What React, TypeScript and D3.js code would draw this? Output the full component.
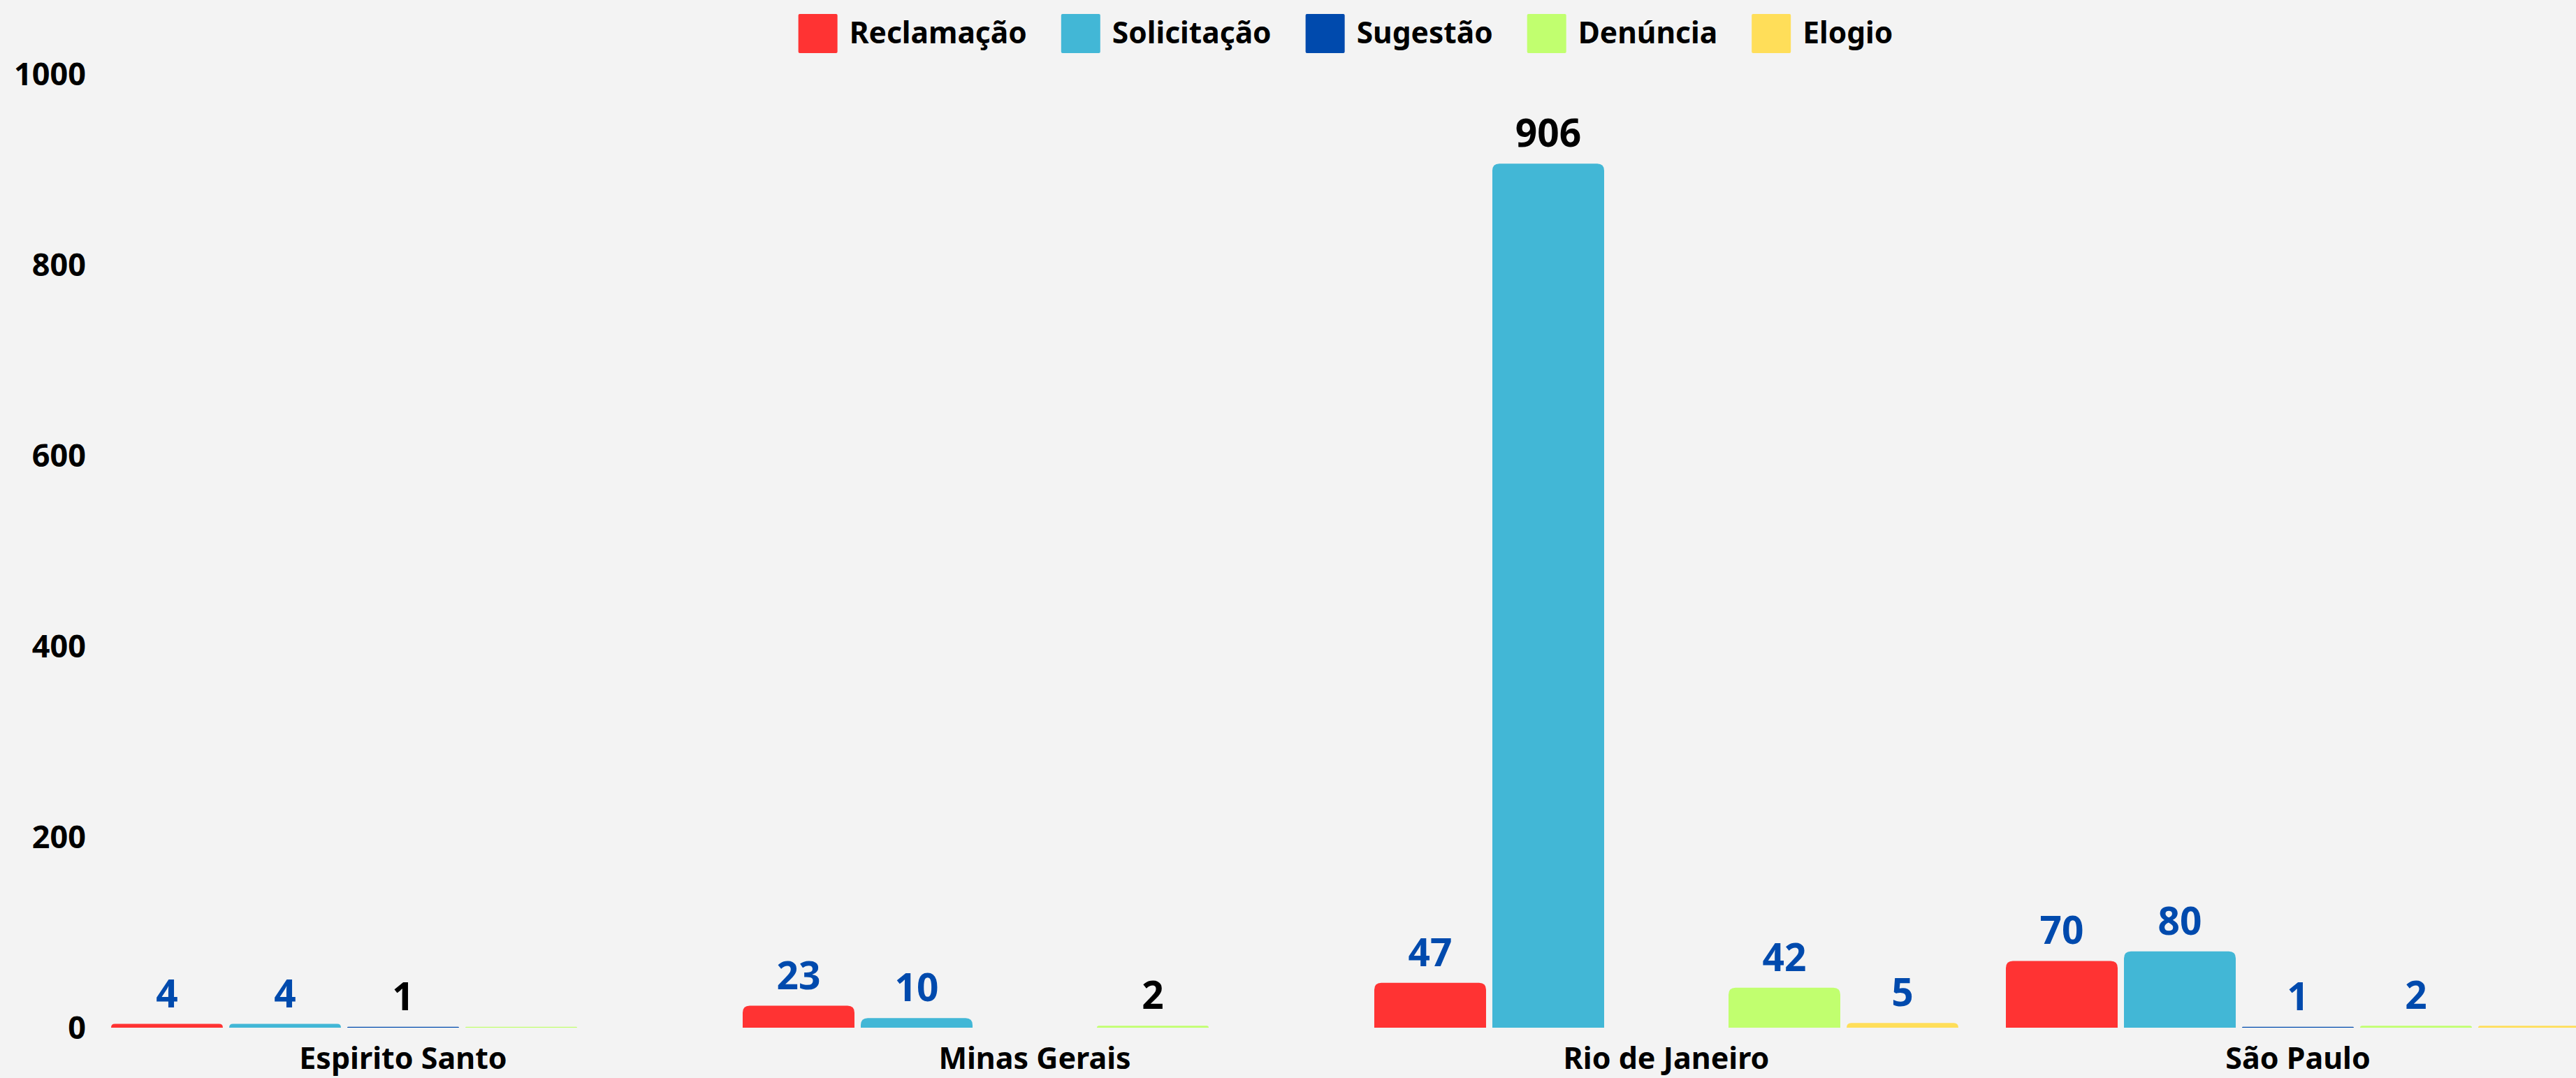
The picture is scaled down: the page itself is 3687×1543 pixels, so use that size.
import React, { useEffect, useRef } from "react";
import * as d3 from "d3";

const categories = ["Espirito Santo", "Minas Gerais", "Rio de Janeiro", "São Paulo"];
const seriesNames = ["Reclamação", "Solicitação", "Sugestão", "Denúncia", "Elogio"];
const seriesColors = ["#FF3333", "#42B7D6", "#004AAD", "#C1FF6F", "#FFDE59"];
const reclamacao = [4, 23, 47, 70];
const solicitacao = [4, 10, 906, 80];
const sugestao = [1, 0, 0, 1];
const denuncia = [1, 2, 42, 2];
const elogio = [0, 0, 5, 2];
const yTicks = [0, 200, 400, 600, 800, 1000];
const hiddenLabels = ["Espirito Santo|Denúncia", "São Paulo|Elogio"];
const blackLabels = ["Espirito Santo|Sugestão", "Minas Gerais|Denúncia", "Rio de Janeiro|Solicitação"];

const W = 3687;
const H = 1543;
const FONT = "'Noto Sans', 'Open Sans', sans-serif";

function topRoundedRect(x: number, y: number, w: number, h: number, r: number) {
  const rr = Math.max(0, Math.min(r, h, w / 2));
  const p = d3.path();
  p.moveTo(x, y + h);
  p.lineTo(x, y + rr);
  p.quadraticCurveTo(x, y, x + rr, y);
  p.lineTo(x + w - rr, y);
  p.quadraticCurveTo(x + w, y, x + w, y + rr);
  p.lineTo(x + w, y + h);
  p.closePath();
  return p.toString();
}

export default function App() {
  const ref = useRef<SVGSVGElement | null>(null);

  useEffect(() => {
    document.body.style.margin = "0";
    document.body.style.overflow = "hidden";
    const svg = d3.select(ref.current);
    svg.selectAll("*").remove();

    const seriesValues = [reclamacao, solicitacao, sugestao, denuncia, elogio];
    const rows = categories.map((c, i) => ({
      cat: c,
      vals: seriesNames.map((s, j) => ({ series: s, value: seriesValues[j][i], color: seriesColors[j] })),
    }));

    const y = d3.scaleLinear().domain([0, 1000]).range([1471, 106]);
    const x0 = d3.scaleBand<string>().domain(categories).range([125, 3741]).paddingInner(0.0752).paddingOuter(0.0376);
    const x1 = d3.scaleBand<string>().domain(seriesNames).range([0, x0.bandwidth()]).paddingInner(0.0533).paddingOuter(0);

    svg.append("rect").attr("x", 0).attr("y", 0).attr("width", W).attr("height", H).attr("fill", "#F3F3F3");

    // Y axis labels
    svg
      .append("g")
      .selectAll("text")
      .data(yTicks)
      .join("text")
      .attr("x", 123)
      .attr("y", (d) => y(d))
      .attr("dy", "0.36em")
      .attr("text-anchor", "end")
      .attr("font-family", FONT)
      .attr("font-weight", 700)
      .attr("font-size", 45)
      .attr("fill", "#000")
      .text((d) => String(d));

    // Bars
    const groups = svg
      .append("g")
      .selectAll("g")
      .data(rows)
      .join("g")
      .attr("transform", (d) => `translate(${x0(d.cat)},0)`);

    groups
      .selectAll("path")
      .data((d) => d.vals.filter((v) => v.value > 0))
      .join("path")
      .attr("d", (d) => {
        const top = y(d.value);
        return topRoundedRect(x1(d.series)!, top, x1.bandwidth(), y(0) - top, 10);
      })
      .attr("fill", (d) => d.color);

    groups
      .selectAll("text")
      .data((d) =>
        d.vals
          .filter((v) => v.value > 0 && !hiddenLabels.includes(`${d.cat}|${v.series}`))
          .map((v) => ({ ...v, cat: d.cat }))
      )
      .join("text")
      .attr("x", (d) => x1(d.series)! + x1.bandwidth() / 2)
      .attr("y", (d) => y(d.value) - 24)
      .attr("text-anchor", "middle")
      .attr("font-family", FONT)
      .attr("font-weight", 700)
      .attr("font-size", 55)
      .attr("fill", (d) => (blackLabels.includes(`${d.cat}|${d.series}`) ? "#000" : "#004AAD"))
      .text((d) => String(d.value));

    // Category labels
    svg
      .append("g")
      .selectAll("text")
      .data(categories)
      .join("text")
      .attr("x", (d) => x0(d)! + x0.bandwidth() / 2)
      .attr("y", 1530)
      .attr("text-anchor", "middle")
      .attr("font-family", FONT)
      .attr("font-weight", 700)
      .attr("font-size", 43)
      .attr("fill", "#000")
      .text((d) => d);

    // Legend
    const legend = svg.append("g");
    const sq = 56;
    const gapText = 17;
    const gapItem = 49;
    const items = legend
      .selectAll("g")
      .data(seriesNames)
      .join("g");
    items
      .append("rect")
      .attr("x", 0)
      .attr("y", 20)
      .attr("width", sq)
      .attr("height", sq)
      .attr("rx", 2)
      .attr("fill", (_d, i) => seriesColors[i]);
    items
      .append("text")
      .attr("x", sq + gapText)
      .attr("y", 62)
      .attr("font-family", FONT)
      .attr("font-weight", 700)
      .attr("font-size", 42.5)
      .attr("fill", "#000")
      .text((d) => d);
    let cx = 0;
    const offsets: number[] = [];
    items.each(function () {
      const t = (this as SVGGElement).querySelector("text") as SVGTextElement;
      const tw = t.getComputedTextLength();
      offsets.push(cx);
      cx += sq + gapText + tw + gapItem;
    });
    const total = cx - gapItem;
    const startX = 1926 - total / 2;
    items.attr("transform", (_d, i) => `translate(${startX + offsets[i]},0)`);
  }, []);

  return <svg ref={ref} width={W} height={H} style={{ display: "block" }} />;
}
